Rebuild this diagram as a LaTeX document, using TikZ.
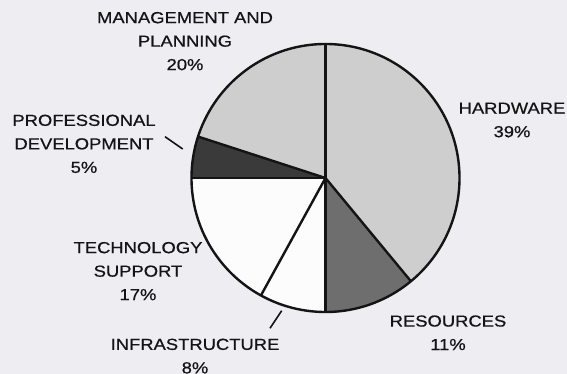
\documentclass[tikz,border=0pt]{standalone}
\usepackage{fontspec}
\usepackage{graphicx}
\setmainfont[FakeBold=0.6]{Liberation Sans}
\definecolor{bgc}{RGB}{238,237,242}
\definecolor{lightfill}{RGB}{206,206,206}
\definecolor{midfill}{RGB}{110,110,110}
\definecolor{darkfill}{RGB}{58,58,58}
\definecolor{whitefill}{RGB}{252,252,252}
\definecolor{ink}{RGB}{20,20,20}
\newcommand\strtxt[1]{\scalebox{1.15}[1]{#1}}
\begin{document}
\begin{tikzpicture}[x=1pt,y=1pt,
  lbl/.style={align=center,anchor=north,inner sep=0pt,text=ink,font=\fontsize{16}{23.5}\selectfont},
  slice/.style={draw=ink,line width=2.4pt,line join=round},
  leader/.style={draw=ink,line width=1.6pt}]
\fill[bgc] (0,0) rectangle (567,374);
\useasboundingbox (0,0) rectangle (567,374);
\coordinate (c) at (325.5,196);
\def\r{134}
% slices
\fill[lightfill] (c) -- ++(90:\r) arc[start angle=90,end angle=-50.4,radius=\r] -- cycle;
\fill[midfill] (c) -- ++(-50.4:\r) arc[start angle=-50.4,end angle=-90,radius=\r] -- cycle;
\fill[whitefill] (c) -- ++(-90:\r) arc[start angle=-90,end angle=-180,radius=\r] -- cycle;
\fill[darkfill] (c) -- ++(180:\r) arc[start angle=180,end angle=162,radius=\r] -- cycle;
\fill[lightfill] (c) -- ++(162:\r) arc[start angle=162,end angle=90,radius=\r] -- cycle;
% outlines
\foreach \a in {90,-50.4,-90,-118.8,180,162}
  \draw[slice] (c) -- ++(\a:\r);
\draw[slice] (c) circle[radius=\r];
% labels
\node[lbl] (mgmt) at (185,362.2) {\strtxt{MANAGEMENT AND}\\\strtxt{PLANNING}\\\strtxt{20\%}};
\node[lbl] (hw) at (512,271.5) {\strtxt{HARDWARE}\\\strtxt{39\%}};
\node[lbl] (res) at (448,58.8) {\strtxt{RESOURCES}\\\strtxt{11\%}};
\node[lbl] (prof) at (84,259.5) {\strtxt{PROFESSIONAL}\\\strtxt{DEVELOPMENT}\\\strtxt{5\%}};
\node[lbl] (tech) at (138,132.2) {\strtxt{TECHNOLOGY}\\\strtxt{SUPPORT}\\\strtxt{17\%}};
\node[lbl] (infra) at (195,35.5) {\strtxt{INFRASTRUCTURE}\\\strtxt{8\%}};
% leaders
\coordinate (pa) at (165,237.3);
\coordinate (pb) at (182.7,225);
\coordinate (ia) at (281.7,63.3);
\coordinate (ib) at (270,45.7);
\draw[leader] (pa) -- (pb);
\draw[leader] (ia) -- (ib);
\end{tikzpicture}
\end{document}
